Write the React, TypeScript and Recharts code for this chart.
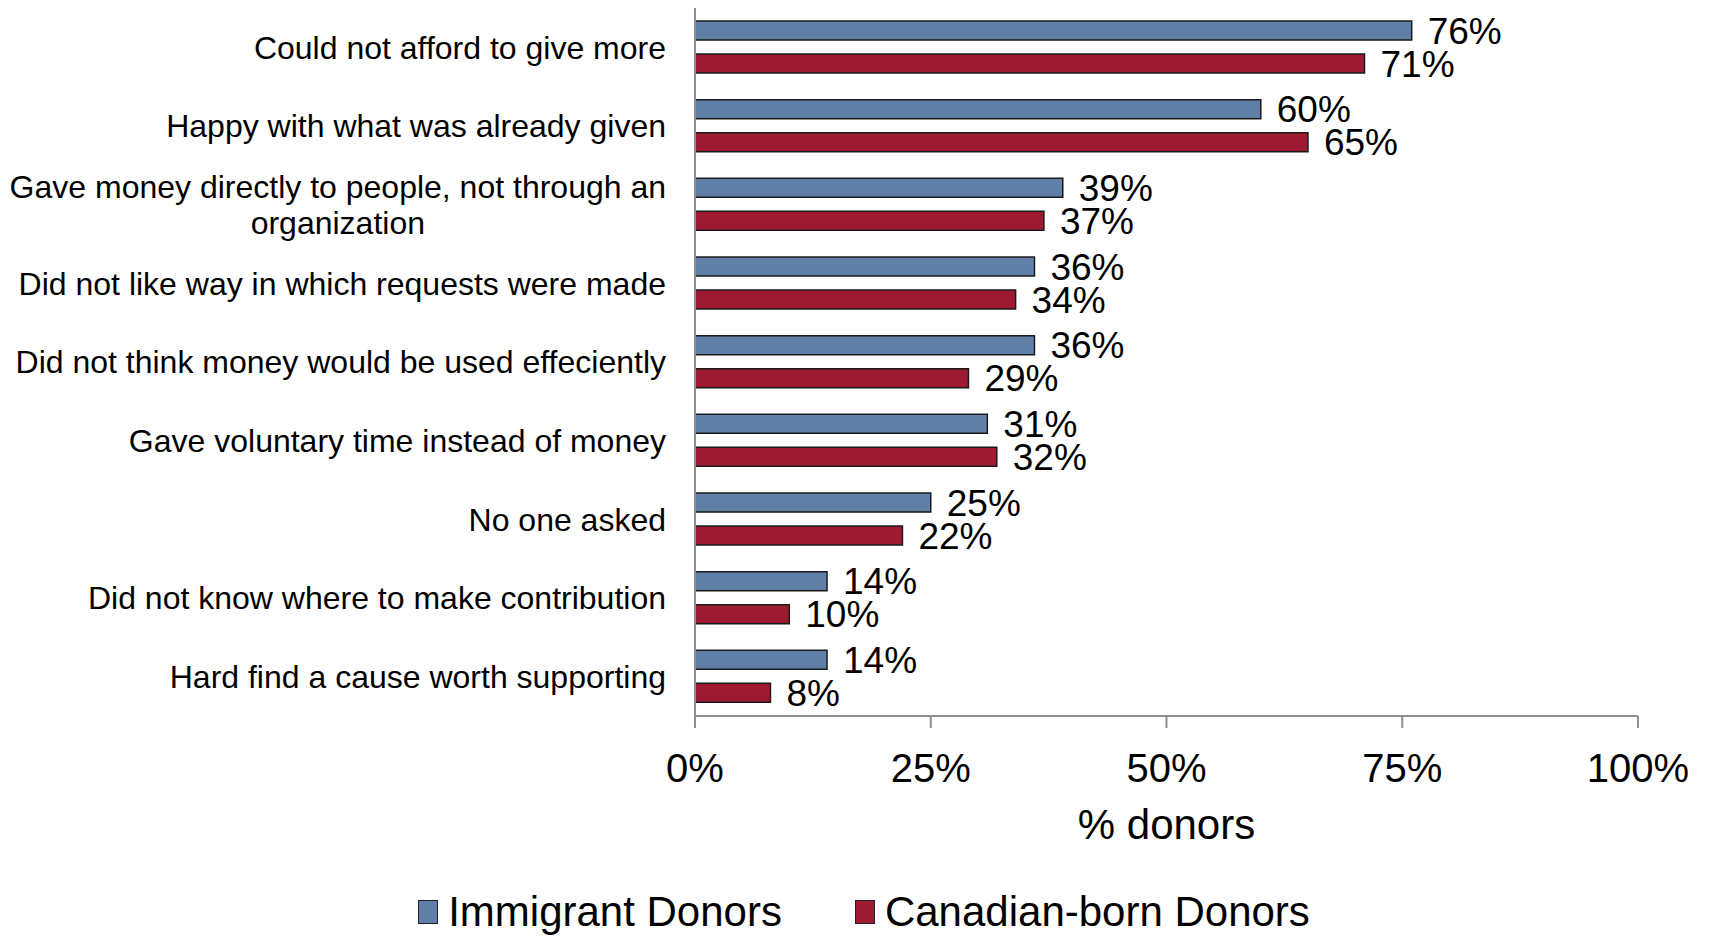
import { useLayoutEffect, useRef, useState } from 'react';
import { BarChart, Bar, XAxis, YAxis, Legend, LabelList } from 'recharts';

const REASONS = [
  'Could not afford to give more',
  'Happy with what was already given',
  'Gave money directly to people, not through an\norganization',
  'Did not like way in which requests were made',
  'Did not think money would be used effeciently',
  'Gave voluntary time instead of money',
  'No one asked',
  'Did not know where to make contribution',
  'Hard find a cause worth supporting',
];
const IMMIGRANT = [76, 60, 39, 36, 36, 31, 25, 14, 14];
const CANADIAN = [71, 65, 37, 34, 29, 32, 22, 10, 8];
const X_TICKS = [0, 25, 50, 75, 100];
const BOUNDARY_TICKS = [0, 1, 2, 3, 4, 5, 6, 7, 8, 9];

const SERIES = [
  { key: 'immigrant', name: 'Immigrant Donors', color: '#6080A8' },
  { key: 'canadian', name: 'Canadian-born Donors', color: '#9E1A33' },
];

const data = REASONS.map((reason, i) => ({
  reason,
  immigrant: IMMIGRANT[i],
  canadian: CANADIAN[i],
}));

const FONT = '"Liberation Sans", Arial, sans-serif';
const AXIS_GRAY = '#8f8f8f';

// category label, two-line labels are centred like in Excel
function CategoryTick(props: any) {
  const { x, y, payload } = props;
  const lines = String(payload?.value ?? '').split('\n');
  const firstRef = useRef<SVGTSpanElement>(null);
  const [w, setW] = useState(0);
  useLayoutEffect(() => {
    if (lines.length > 1 && firstRef.current) {
      setW(firstRef.current.getComputedTextLength());
    }
  }, [payload?.value]);
  const lineH = 36;
  const y0 = y - ((lines.length - 1) * lineH) / 2;
  const multi = lines.length > 1;
  return (
    <text fontSize={32} fill="#000" fontFamily={FONT}>
      {lines.map((l, i) => (
        <tspan
          key={i}
          ref={i === 0 ? firstRef : undefined}
          x={multi ? x - w / 2 : x}
          y={y0 + i * lineH}
          dy="0.355em"
          textAnchor={multi ? 'middle' : 'end'}
        >
          {l}
        </tspan>
      ))}
    </text>
  );
}

function LegendContent() {
  return (
    <div
      style={{
        display: 'flex',
        justifyContent: 'center',
        alignItems: 'center',
        gap: 73,
        height: 56,
        paddingTop: 8,
        paddingLeft: 18,
        boxSizing: 'border-box',
        fontSize: 42,
        fontFamily: FONT,
        color: '#000',
      }}
    >
      {SERIES.map((s) => (
        <div key={s.key} style={{ display: 'flex', alignItems: 'center' }}>
          <span
            style={{
              display: 'inline-block',
              width: 20,
              height: 24,
              background: s.color,
              border: '1.5px solid #222',
              boxSizing: 'border-box',
              marginRight: 10,
            }}
          />
          <span>{s.name}</span>
        </div>
      ))}
    </div>
  );
}

export default function App() {
  return (
    <div style={{ position: 'absolute', left: 0, top: 0, background: '#fff' }}>
      <BarChart
        width={1710}
        height={936}
        data={data}
        layout="vertical"
        margin={{ top: 8, right: 72, left: 0, bottom: 0 }}
        barSize={19}
        barGap={14}
        style={{ fontFamily: FONT }}
      >
        <XAxis
          type="number"
          domain={[0, 100]}
          ticks={X_TICKS}
          tickFormatter={(v) => `${v}%`}
          height={164}
          tickSize={12}
          tickMargin={26}
          axisLine={{ stroke: AXIS_GRAY, strokeWidth: 2 }}
          tickLine={{ stroke: AXIS_GRAY, strokeWidth: 2 }}
          tick={{ fill: '#000', fontSize: 40 }}
          label={{ value: '% donors', position: 'insideTop', offset: 93, fill: '#000', fontSize: 42 }}
        />
        {/* tick marks between categories, next to the plot */}
        <YAxis
          yAxisId={0}
          type="number"
          domain={[0, 9]}
          ticks={BOUNDARY_TICKS}
          width={10}
          tickSize={10}
          tick={false}
          axisLine={{ stroke: AXIS_GRAY, strokeWidth: 2 }}
          tickLine={{ stroke: AXIS_GRAY, strokeWidth: 2 }}
        />
        <YAxis
          yAxisId="cat"
          type="category"
          dataKey="reason"
          width={685}
          tickSize={0}
          tickMargin={19}
          axisLine={false}
          tickLine={false}
          interval={0}
          tick={<CategoryTick />}
        />
        <Legend verticalAlign="bottom" height={56} content={<LegendContent />} wrapperStyle={{ left: 0, width: 1710 }} />
        {SERIES.map((s) => (
          <Bar
            key={s.key}
            yAxisId="cat"
            dataKey={s.key}
            name={s.name}
            fill={s.color}
            stroke="#1a1a1a"
            strokeWidth={1.5}
            isAnimationActive={false}
          >
            <LabelList
              dataKey={s.key}
              position="right"
              offset={16}
              formatter={(v: any) => `${v}%`}
              fill="#000"
              fontSize={37}
            />
          </Bar>
        ))}
      </BarChart>
    </div>
  );
}
